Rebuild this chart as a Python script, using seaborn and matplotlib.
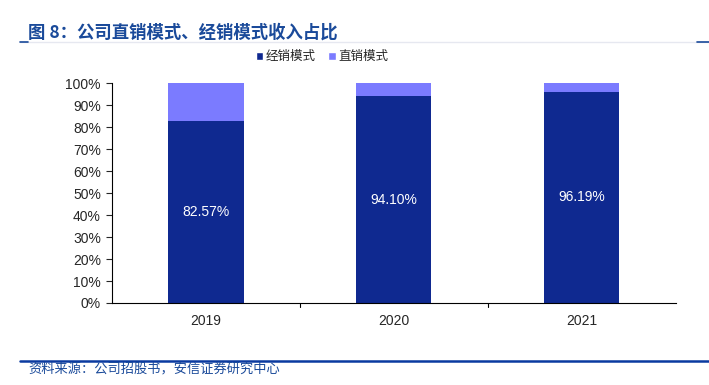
import numpy as np
import pandas as pd
import matplotlib
matplotlib.use("Agg")
import matplotlib.pyplot as plt
import seaborn as sns
from matplotlib.patches import Patch
from matplotlib.lines import Line2D

years = ["2019", "2020", "2021"]
distribution = [82.57, 94.10, 96.19]   # 经销模式
direct = [17.43, 5.90, 3.81]            # 直销模式

sns.set_style("white")
plt.rcParams["font.family"] = ["Liberation Sans", "Noto Sans CJK SC", "DejaVu Sans"]

dark = "#0F2990"
light = "#7B7BFF"
blue = "#1A4A9A"

df = pd.DataFrame({"year": years, "dist": distribution,
                   "total": np.array(distribution) + np.array(direct)})

fig = plt.figure(figsize=(7.09, 3.85), dpi=100)
ax = fig.add_axes([0.158, 0.213, 0.795, 0.571])

sns.barplot(data=df, x="year", y="total", color=light, width=0.4, saturation=1,
            linewidth=0, ax=ax)
sns.barplot(data=df, x="year", y="dist", color=dark, width=0.4, saturation=1,
            linewidth=0, ax=ax)

for i, v in enumerate(distribution):
    ax.text(i, v / 2, f"{v:.2f}%", ha="center", va="center", color="white", fontsize=10)

ax.set_ylim(0, 100)
ax.set_xlim(-0.5, 2.5)
ax.set_yticks(range(0, 101, 10))
ax.set_yticklabels([f"{t}%" for t in range(0, 101, 10)], fontsize=10)
ax.set_xlabel("")
ax.set_ylabel("")
ax.tick_params(axis="x", length=0, labelsize=10, pad=8)
ax.tick_params(axis="y", length=4, direction="out", left=True, pad=4)
for x in [0.5, 1.5]:
    ax.plot([x, x], [0, -1.8], color="black", lw=0.8, clip_on=False)
for s in ["top", "right"]:
    ax.spines[s].set_visible(False)
ax.spines["left"].set_color("black")
ax.spines["bottom"].set_color("black")
ax.spines["left"].set_linewidth(0.8)
ax.spines["bottom"].set_linewidth(0.8)

handles = [Patch(facecolor=dark, label="经销模式"), Patch(facecolor=light, label="直销模式")]
fig.legend(handles=handles, loc="center", bbox_to_anchor=(0.454, 0.852), ncol=2, frameon=False,
           handlelength=0.6, handleheight=0.6, handletextpad=0.2, columnspacing=1.0,
           prop={"family": ["Noto Sans CJK SC"], "size": 9})

fig.text(0.040, 0.915, "图 8：公司直销模式、经销模式收入占比", color=blue, fontsize=12.5,
         fontweight="bold", family=["Noto Sans CJK SC", "DejaVu Sans"], va="center")
fig.add_artist(Line2D([0.028, 1.0], [0.892, 0.892], color="#E6E8F0", lw=1))
fig.add_artist(Line2D([0.028, 0.040], [0.892, 0.892], color=blue, lw=1.2))
fig.add_artist(Line2D([0.983, 1.0], [0.892, 0.892], color=blue, lw=1.2))

fig.add_artist(Line2D([0.028, 1.0], [0.063, 0.063], color="#0A3AA0", lw=1.8))
fig.text(0.040, 0.040, "资料来源：公司招股书，安信证券研究中心", color=blue, fontsize=9.5,
         family=["Noto Sans CJK SC"], va="center", style="italic")

fig.savefig("out.png", dpi=100)
